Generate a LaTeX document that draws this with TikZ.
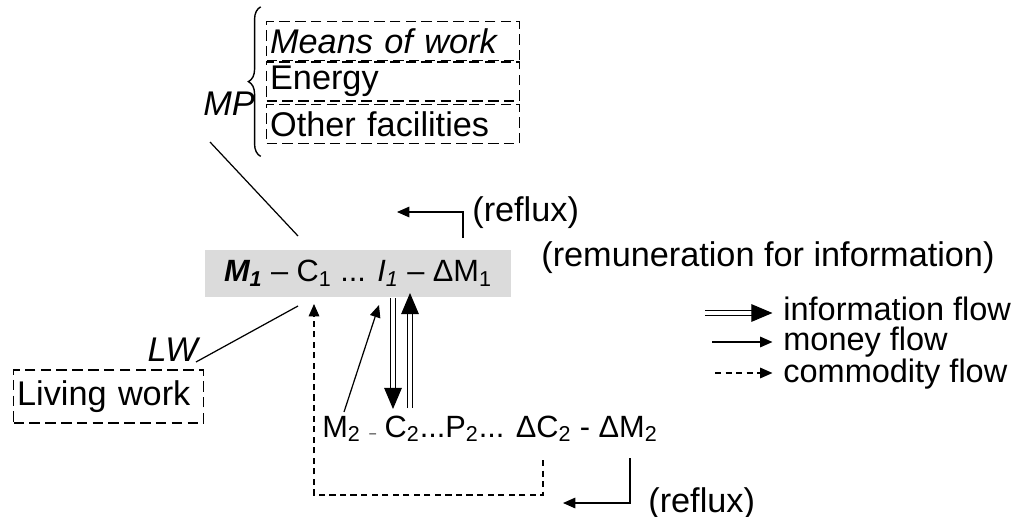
\documentclass[tikz,border=0pt]{standalone}
\usepackage{fontspec}
\setmainfont{Liberation Sans}
\usepackage{tikz}
\usetikzlibrary{arrows.meta,positioning,decorations.pathreplacing}
\tikzset{>=Triangle}
\tikzset{%
    cyclebox/.style={fill=black!14, minimum width=6.12cm, minimum height=0.94cm, inner sep=0pt,
        font=\fontsize{17.5}{21}\selectfont},
    itembox/.style={draw, line width=0.7pt, dash pattern=on 6pt off 3pt, anchor=west, minimum height=0.78cm,
        text width=4.92cm, inner xsep=0.07cm, inner ysep=0pt, align=left},
    label/.style={inner sep=0pt, anchor=base west},
    legend/.style={label, font=\fontsize{18.5}{22}\selectfont},
    money/.style={line width=0.7pt, -{Triangle[length=7pt,width=6pt]}},
    commodity/.style={line width=0.7pt, dash pattern=on 3.5pt off 2.5pt, -{Triangle[length=7pt,width=6pt]}},
    info/.style={double, double distance=2.2pt, line width=0.6pt, -{Triangle[length=12pt,width=10pt]}}
}

\begin{document}
\begin{tikzpicture}[x=0.02cm, y=-0.02cm, font=\fontsize{19.5}{23}\selectfont]
\useasboundingbox (0,0) rectangle (1024,517);
% the two circuits
\node[cyclebox] (c1) at (358,273.5) {\textbf{\textit{M\textsubscript{1}}} – C\textsubscript{1} ... \textit{I\textsubscript{1}} – ΔM\textsubscript{1}};
\node[label, font=\fontsize{17.5}{21}\selectfont] (c2) at (322,437) {M\textsubscript{2} {\scriptsize –} C\textsubscript{2}...P\textsubscript{2}... ΔC\textsubscript{2} - ΔM\textsubscript{2}};
% means of production
\node[itembox] (means) at (266,41) {\textit{Means of work}};
\node[itembox] (energy) at (266,81.5) {Energy};
\node[itembox] (other) at (266,124) {Other facilities};
\draw[line width=0.8pt, decorate, decoration={brace, amplitude=7pt}] ([xshift=-3pt,yshift=-7pt]other.south west) -- ([xshift=-3pt,yshift=8pt]means.north west);
\node (mp) at (229,104) {\textit{MP}};
\coordinate (mpfoot) at (210,142);
\coordinate (mptop) at (298,236);
\draw[line width=0.7pt] (mpfoot) -- (mptop);
% living work
\node[itembox, text width=3.66cm, minimum height=1.06cm] (living) at (13,396.5) {Living work};
\node (lw) at (174,350) {\textit{LW}};
\coordinate (lwfoot) at (196,362);
\coordinate (lwtop) at (298,306);
\draw[line width=0.7pt] (lwfoot) -- (lwtop);
% flows between the circuits
\coordinate (m2) at (344,412);
\coordinate (i1) at (379,305);
\draw[money] (m2) -- (i1);
\coordinate (downtop) at (393,298);
\coordinate (downtip) at (393,409);
\draw[info] (downtop) -- (downtip);
\coordinate (upfoot) at (410,408);
\coordinate (uptip) at (410,293);
\draw[info] (upfoot) -- (uptip);
\coordinate (dc2) at (543,460);
\coordinate (c1tip) at (314,304);
\draw[commodity] (dc2) -- ++(0,35) -| (c1tip);
% reflux
\node[label] (reflux1) at (472,221) {(reflux)};
\coordinate (r1foot) at (463,238);
\coordinate (r1tip) at (397,212);
\draw[money] (r1foot) |- (r1tip);
\node[label] (remun) at (541,266) {(remuneration for information)};
\node[label] (reflux2) at (648,512) {(reflux)};
\coordinate (r2top) at (630,458);
\coordinate (r2tip) at (563,503);
\draw[money] (r2top) |- (r2tip);
% legend
\node[legend] (infotext) at (783,320) {information flow};
\node[legend] (moneytext) at (783,350) {money flow};
\node[legend] (comtext) at (783,382) {commodity flow};
\coordinate (infostart) at (705,313);
\coordinate (moneystart) at (712,342);
\coordinate (comstart) at (715,373);
\draw[info] (infostart) -- ([xshift=-6pt]infostart -| infotext.west);
\draw[money] (moneystart) -- ([xshift=-6pt]moneystart -| moneytext.west);
\draw[commodity] (comstart) -- ([xshift=-6pt]comstart -| comtext.west);
\end{tikzpicture}
\end{document}
